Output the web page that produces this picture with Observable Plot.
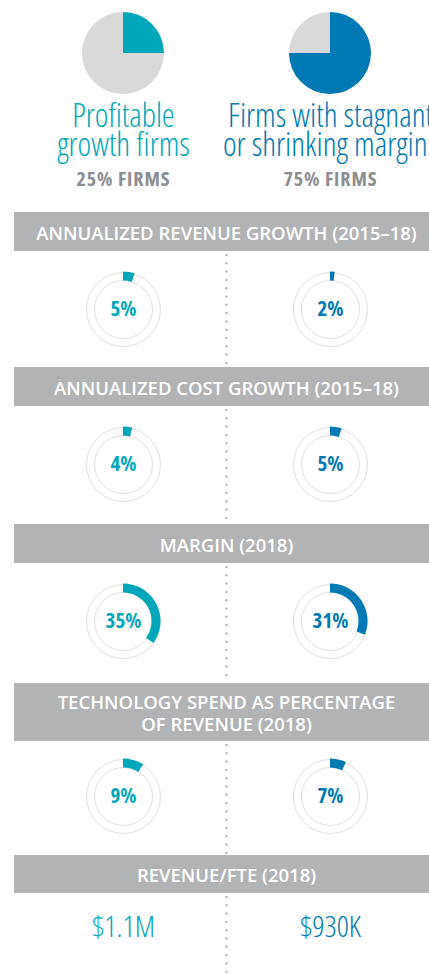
<!DOCTYPE html>
<html><head><meta charset="utf-8">
<script src="https://cdn.jsdelivr.net/npm/d3@7"></script>
<script src="https://cdn.jsdelivr.net/npm/@observablehq/plot@0.6"></script>
<style>body{margin:0;background:#fff;overflow:hidden} #chart svg{display:block}</style>
</head><body><div id="chart"></div>
<script>
// ---- data ----
const groups = ["Profitable\ngrowth firms", "Firms with stagnant\nor shrinking margins"];
const groupShares = [25, 75];
const groupShareLabels = ["25% FIRMS", "75% FIRMS"];
const metrics = ["ANNUALIZED REVENUE GROWTH (2015–18)", "ANNUALIZED COST GROWTH (2015–18)", "MARGIN (2018)", "TECHNOLOGY SPEND AS PERCENTAGE\nOF REVENUE (2018)", "REVENUE/FTE (2018)"];
const profitableValues = [5, 4, 35, 9];
const stagnantValues = [2, 5, 31, 7];
const revenuePerFte = ["$1.1M", "$930K"];

// ---- layout ----
const W = 429, H = 975;
const colX = [123, 330];
const colors = ["#00a7bb", "#0079b4"];
const pieY = 53, pieR = 41;
const bars = [[212, 251], [367, 406], [524, 563], [683, 741], [855, 893]];
const rowY = [309, 464, 621, 796];
const fteY = 927;
const dots = [[254, 366], [409, 523], [566, 682], [744, 854], [896, 975]];
const ringOuter = 37.5, ringInner = 28.5;

const donuts = [];
profitableValues.forEach((v, i) => donuts.push({col: 0, row: i, value: v}));
stagnantValues.forEach((v, i) => donuts.push({col: 1, row: i, value: v}));
const pies = groupShares.map((s, i) => ({col: i, share: s}));
const angle = d3.scaleLinear([0, 100], [0, 2 * Math.PI]);

function arcsMark(index, scales) {
  const g = d3.create("svg:g");
  for (const p of pies) {
    const cx = scales.x(colX[p.col]), cy = scales.y(pieY);
    const slices = d3.pie().sort(null).value(d => d)([p.share, 100 - p.share]);
    const arc = d3.arc().innerRadius(0).outerRadius(pieR);
    g.append("g").attr("transform", `translate(${cx},${cy})`)
      .selectAll("path").data(slices).join("path")
      .attr("d", arc).attr("fill", (d, j) => j === 0 ? colors[p.col] : "#d9d9d9");
  }
  for (const d of donuts) {
    const cx = scales.x(colX[d.col]), cy = scales.y(rowY[d.row]);
    const arc = d3.arc().innerRadius(ringInner).outerRadius(ringOuter).startAngle(0).endAngle(angle(d.value));
    g.append("path").attr("transform", `translate(${cx},${cy})`).attr("d", arc()).attr("fill", colors[d.col]);
  }
  return g.node();
}

const chart = Plot.plot({
  width: W, height: H,
  margin: 0,
  x: {domain: [0, W], range: [0, W], axis: null},
  y: {domain: [0, H], range: [0, H], axis: null},
  style: {background: "#fff"},
  marks: [
    Plot.rect(metrics, {x1: () => 14, x2: () => W, y1: (d, i) => bars[i][0], y2: (d, i) => bars[i][1], fill: "#b1b3b4"}),
    Plot.ruleX(dots, {x: () => 226, y1: d => d[0], y2: d => d[1], stroke: "#a9abae", strokeWidth: 2, strokeDasharray: "2,6.3"}),
    Plot.dot(donuts, {x: d => colX[d.col], y: d => rowY[d.row], r: 37, fill: "none", stroke: "#dedede", strokeWidth: 1}),
    Plot.dot(donuts, {x: d => colX[d.col], y: d => rowY[d.row], r: 29, fill: "none", stroke: "#dedede", strokeWidth: 1}),
    arcsMark,
    Plot.text(metrics, {x: () => 226, y: (d, i) => (bars[i][0] + bars[i][1]) / 2 + 0.5, text: d => d, fill: "#fff", fontSize: 18.5, fontWeight: 600, fontFamily: "Open Sans", lineHeight: 1.19}),
    Plot.text(groups, {x: (d, i) => colX[i], y: () => 132, text: d => d, fill: (d, i) => colors[i], fontSize: 32.5, fontWeight: 300, fontFamily: "OSC-light", lineHeight: 0.89}),
    Plot.text(groupShareLabels, {x: (d, i) => colX[i], y: () => 179, text: d => d, fill: "#8b8d90", fontSize: 20, fontWeight: 700, fontFamily: "OSC-wide"}),
    Plot.text(donuts, {x: d => colX[d.col], y: d => rowY[d.row], text: d => d.value + "%", fill: d => colors[d.col], fontSize: 21, fontWeight: 700, fontFamily: "OSC-bold"}),
    Plot.text(revenuePerFte, {x: (d, i) => colX[i], y: () => fteY, text: d => d, fill: (d, i) => colors[i], fontSize: 30, fontWeight: 300, fontFamily: "OSC-light"})
  ]
});
d3.select(chart).selectAll('[font-family="OSC-wide"]').attr("font-family", "Open Sans").style("font-stretch", "75%").style("letter-spacing", "0.9px");
d3.select(chart).selectAll('[font-family^="OSC"]').attr("font-family", "Open Sans").style("font-stretch", "75%");
document.getElementById("chart").appendChild(chart);
</script>
</body></html>
